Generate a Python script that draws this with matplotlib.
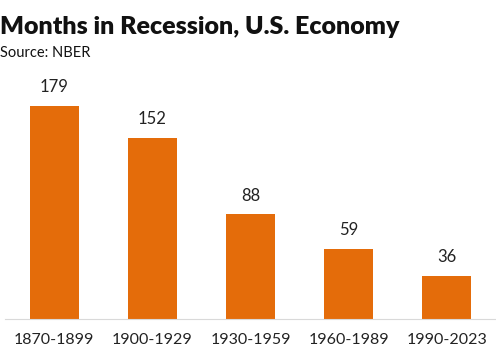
import matplotlib
matplotlib.use("Agg")
import matplotlib.pyplot as plt

# Datos
periodos = ["1870-1899", "1900-1929", "1930-1959", "1960-1989", "1990-2023"]
meses = [179, 152, 88, 59, 36]

plt.rcParams['font.family'] = ['Lato', 'DejaVu Sans']

fig = plt.figure(figsize=(4.96, 3.53), dpi=100)
ax = fig.add_axes([5 / 496, 34 / 353, 491 / 496, 238 / 353])

x = range(len(periodos))
barras = ax.bar(x, meses, width=0.5, color="#E46C0A")

for b, v in zip(barras, meses):
    ax.text(b.get_x() + b.get_width() / 2, v + 9, str(v),
            ha="center", va="bottom", fontsize=12, color="#222222")

ax.set_xlim(-0.5, 4.5)
ax.set_ylim(0, 200)
ax.set_xticks(list(x))
ax.set_xticklabels(periodos, fontsize=11.5, color="#222222")
ax.tick_params(axis="x", length=0, pad=10)
ax.set_yticks([])
for lado in ["top", "right", "left"]:
    ax.spines[lado].set_visible(False)
ax.spines["bottom"].set_color("#D9D9D9")

fig.text(0.0, 1 - 34 / 353, "Months in Recession, U.S. Economy",
         fontsize=18, fontweight="heavy", ha="left", va="baseline", color="#111111")
fig.text(0.0, 1 - 57 / 353, "Source: NBER", fontsize=10.5, ha="left",
         va="baseline", color="#111111")

fig.savefig("out.png", dpi=100)
